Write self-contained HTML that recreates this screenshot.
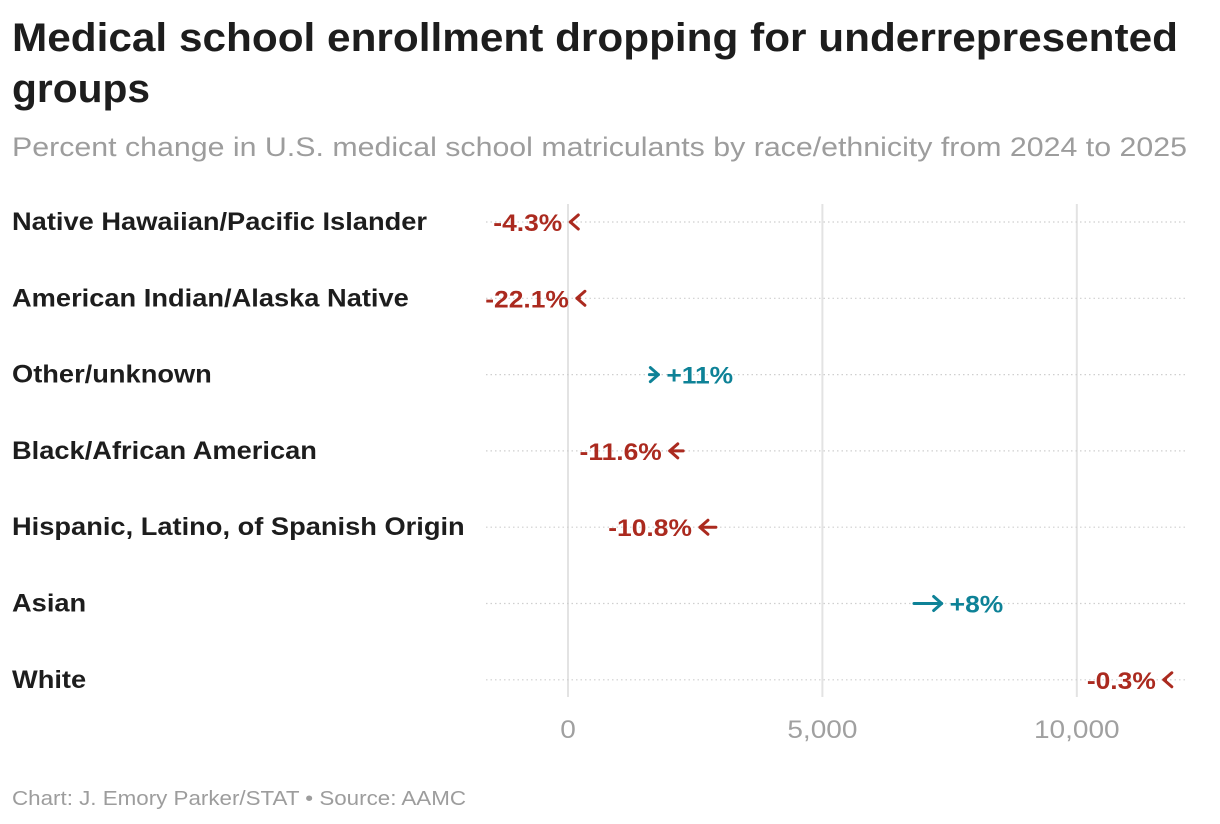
<!DOCTYPE html>
<html><head><meta charset="utf-8"><style>
body{margin:0;background:#fff;}
svg{display:block;font-family:"Liberation Sans",sans-serif;}
</style></head><body>
<svg id="chart" width="1220" height="824" viewBox="0 0 1220 824">
<text x="12" y="51" font-size="40" font-weight="bold" fill="#1d1d1d" textLength="1166" lengthAdjust="spacingAndGlyphs">Medical school enrollment dropping for underrepresented</text>
<text x="12" y="102" font-size="40" font-weight="bold" fill="#1d1d1d" textLength="138" lengthAdjust="spacingAndGlyphs">groups</text>
<text x="12" y="156" font-size="27" fill="#9d9d9d" textLength="1175" lengthAdjust="spacingAndGlyphs">Percent change in U.S. medical school matriculants by race/ethnicity from 2024 to 2025</text>
<g id="grid"></g>
<g id="rows"></g>
<g id="ticks"></g>
<text x="12" y="805" font-size="20" fill="#9d9d9d" textLength="454" lengthAdjust="spacingAndGlyphs">Chart: J. Emory Parker/STAT • Source: AAMC</text>
</svg>
<script>
const categories=["Native Hawaiian/Pacific Islander","American Indian/Alaska Native","Other/unknown","Black/African American","Hispanic, Latino, of Spanish Origin","Asian","White"];
const values2024=[47,225,1600,2263,2907,6800,11745];
const values2025=[45,175,1776,2000,2593,7344,11710];
const changeLabels=["-4.3%","-22.1%","+11%","-11.6%","-10.8%","+8%","-0.3%"];
const tickValues=[0,5000,10000];
const tickLabels=["0","5,000","10,000"];
const NS="http://www.w3.org/2000/svg";
const x=v=>568+v*0.05088;
const y=i=>222+i*76.3;
function mk(tag,attrs,parent){const e=document.createElementNS(NS,tag);for(const k in attrs)e.setAttribute(k,attrs[k]);parent.appendChild(e);return e;}
function stretch(el,f){const w=el.getComputedTextLength();el.setAttribute('textLength',w*f);el.setAttribute('lengthAdjust','spacingAndGlyphs');}
const grid=document.getElementById('grid'),rows=document.getElementById('rows'),ticks=document.getElementById('ticks');
tickValues.forEach((t,i)=>{
  const l=mk('line',{x1:x(t),x2:x(t),y1:204,y2:697,stroke:'#e3e3e3','stroke-width':2},grid);
  
  
  const tx=mk('text',{x:x(t),y:738,'text-anchor':'middle','font-size':25,fill:'#a0a0a0'},ticks);
  tx.textContent=tickLabels[i];
  
  
  stretch(tx,1.12);
});
categories.forEach((c,i)=>{
  const yy=y(i);
  const d=mk('line',{x1:486,x2:1188,y1:yy,y2:yy,stroke:'#cfcfcf','stroke-width':1.2,'stroke-dasharray':'1.5 3'},grid);
  
  
  const lab=mk('text',{x:12,y:yy+8,'font-size':25,'font-weight':'bold',fill:'#1d1d1d'},rows);
  lab.textContent=c;
  
  
  stretch(lab,1.09);
  const up=values2025[i]>values2024[i];
  const col=up?'#0e8297':'#ab2a1f';
  const x0=x(values2024[i]),x1=x(values2025[i]);
  const dir=up?1:-1;
  const g=mk('g',{},rows);
  
  
  mk('line',{x1:x0,x2:x1,y1:yy,y2:yy,stroke:col,'stroke-width':3,'stroke-linecap':'round'},g);
  mk('path',{d:`M${x1-dir*8},${yy-7} L${x1},${yy} L${x1-dir*8},${yy+7}`,fill:'none',stroke:col,'stroke-width':3,'stroke-linecap':'round','stroke-linejoin':'round'},g);
  const vl=mk('text',{x:x1+dir*8,y:yy+9,'font-size':24,'font-weight':'bold',fill:col,'text-anchor':up?'start':'end'},rows);
  vl.textContent=changeLabels[i];
  
  
  stretch(vl,1.1);
});
</script>
</body></html>
